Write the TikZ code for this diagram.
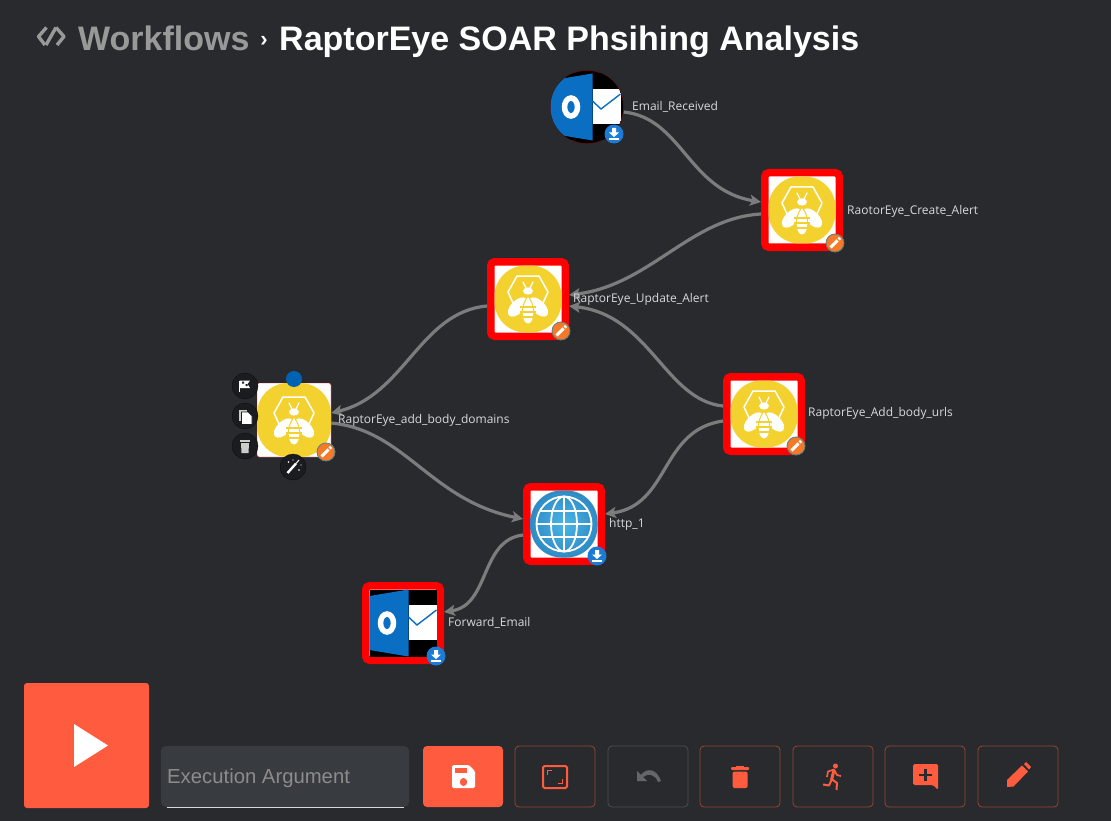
\documentclass[tikz,border=0pt]{standalone}
\usepackage{fontspec}
\setmainfont{Liberation Sans}
\newfontfamily\lblfont{Open Sans}
\usetikzlibrary{arrows.meta}
\definecolor{pagebg}{HTML}{282A2E}
\definecolor{accent}{HTML}{FF5C3F}
\definecolor{btnline}{HTML}{96452F}
\definecolor{btnoff}{HTML}{4C4D51}
\definecolor{beeyellow}{HTML}{F3D230}
\definecolor{outlookblue}{HTML}{0A6FC2}
\definecolor{badgeblue}{HTML}{1C7CD5}
\definecolor{badgeorange}{HTML}{F47A2A}
\definecolor{flowgray}{HTML}{7C7C7C}
\definecolor{sidedark}{HTML}{1B1C1F}
\definecolor{argfill}{HTML}{383B40}
\definecolor{globein}{HTML}{4AB6E8}
\definecolor{globeout}{HTML}{2F8BC4}
\tikzset{
  redbox/.style={draw=red, line width=7.5pt, rounded corners=4pt, fill=white, minimum size=74.5, inner sep=0},
  flow/.style={draw=flowgray, line width=3.2pt, -{Stealth[length=11pt,width=11pt,inset=2.5pt]}},
  lbl/.style={text=white!85!black, anchor=west, inner sep=0, font=\lblfont\fontsize{12}{14}\selectfont},
  btn/.style={draw=btnline, line width=.8pt, rounded corners=4pt, minimum width=80, minimum height=61, inner sep=0},
  side/.style={circle, fill=sidedark, draw=black!70!pagebg, minimum size=26, inner sep=0},
  pics/bee/.style={code={
    \fill[beeyellow, rounded corners=31pt] (-#1,-#1) rectangle (#1,#1);
    \draw[white, line width=1.5pt, line join=round] (-15,4)--(-20,-7)--(-11,-23)--(11,-23)--(20,-7)--(15,4);
    \draw[white, line width=1.3pt, line cap=round] (-2,-11)--(-5,-17) (2,-11)--(5,-17);
    \fill[white] (0,-8) ellipse [x radius=5, y radius=3.6];
    \fill[white, rotate around={45:(-10.5,8)}] (-10.5,8) ellipse [x radius=12, y radius=6.5];
    \fill[white, rotate around={-45:(10.5,8)}] (10.5,8) ellipse [x radius=12, y radius=6.5];
    \fill[white, draw=beeyellow, line width=1pt] (0,-3)--(3,2) .. controls (8,12) and (6,25) .. (0,25) .. controls (-6,25) and (-8,12) .. (-3,2)--cycle;
    \draw[beeyellow, line width=1.5pt] (-8,8)--(8,8) (-8,13)--(8,13) (-8,18)--(8,18);
  }},
  pics/outlook/.style={code={
    \fill[black] (-33.5,-33.5) rectangle (33.5,33.5);
    \fill[outlookblue] (-33.5,-27)--(5.5,-33.5)--(5.5,33.5)--(-33.5,27)--cycle;
    \fill[white] (5.5,-18) rectangle (33.5,17);
    \draw[outlookblue, line width=1.4pt] (5.5,-6)--(14,2)--(33.5,-13);
    \draw[white, line width=5.5pt] (-16,0) ellipse [x radius=6.5, y radius=9];
  }},
  pics/globe/.style={code={
    \shade[inner color=globein, outer color=globeout, rounded corners=31pt] (-33.5,-33.5) rectangle (33.5,33.5);
    \begin{scope}[white, line width=1.8pt]
    \draw (0,0) circle (27.5);
    \draw (0,0) ellipse [x radius=13, y radius=27.5];
    \draw (0,-27.5)--(0,27.5) (-27.5,0)--(27.5,0) (-24,-13)--(24,-13) (-24,13)--(24,13);
    \end{scope}
  }},
  pics/pencilbadge/.style={code={
    \fill[badgeorange, draw=gray!70!teal, line width=.8pt] (0,0) circle (9);
    \draw[white, line width=3pt] (-4.5,4.5)--(2.5,-2.5);
    \draw[white, line width=3pt] (3.6,-3.6)--(5,-5);
  }},
  pics/loadbadge/.style={code={
    \fill[badgeblue] (0,0) circle (9.5);
    \fill[white] (-2,-6)--(2,-6)--(2,-1.5)--(5,-1.5)--(0,3)--(-5,-1.5)--(-2,-1.5)--cycle;
    \fill[white] (-5,4.2) rectangle (5,5.8);
  }},
}
\begin{document}
\begin{tikzpicture}[x=1pt,y=-1pt]
\useasboundingbox[fill=pagebg] (0,0) rectangle (1111,821);
% heading
\draw[gray!80!white, line width=3.4pt, line join=round] (46.5,27.5)--(38.5,36.5)--(45,45) (56,27.5)--(64,36.5)--(57,45);
\draw[gray!80!white, line width=3.4pt] (56,27.5)--(46,45);
\node[anchor=base west, inner sep=0, text=gray!80!white, font=\bfseries\fontsize{34}{40}\selectfont] (wftitle) at (78,51) {Workflows};
\node[anchor=base, inner sep=0, text=white, font=\bfseries\fontsize{22}{26}\selectfont] (wfsep) at (264,47) {›};
\node[anchor=base west, inner sep=0, text=white, font=\bfseries\fontsize{34}{40}\selectfont] (wfname) at (279,51) {RaptorEye SOAR Phsihing Analysis};
% nodes
\node[circle, draw=red!55!black, fill=black, minimum size=73, inner sep=0] (received) at (587,107) {};
\begin{scope}
\clip (587,107) circle (36.5);
\fill[outlookblue] (550,70) rectangle (560,144);
\pic at (received) {outlook};
\end{scope}
\node[redbox] (create) at (802,210) {};
\node[redbox] (update) at (528,299) {};
\node[redbox] (urls) at (764,414) {};
\node[redbox] (http) at (564,524) {};
\node[redbox] (forward) at (403,623) {};
\node[draw=red!70!black, fill=white, rounded corners=2pt, minimum size=74, inner sep=0] (domains) at (294,420) {};
\pic at (create) {bee=33.5};
\pic at (update) {bee=33.5};
\pic at (urls) {bee=33.5};
\pic at (domains) {bee=37};
\pic at (http) {globe};
\pic at (forward) {outlook};
% badges
\pic at (614,134) {loadbadge};
\pic at (597,556) {loadbadge};
\pic at (436,656) {loadbadge};
\pic at (835,243) {pencilbadge};
\pic at (561,331) {pencilbadge};
\pic at (796,446) {pencilbadge};
\pic at (326,452) {pencilbadge};
% connectors
\draw[flow] ([yshift=-5pt]received.east) .. controls (682,118) and (688,190) .. ([yshift=8pt]create.west);
\draw[flow] ([yshift=-4pt]create.west) .. controls (690,218) and (650,285) .. ([yshift=4pt]update.east);
\draw[flow] ([yshift=8pt]urls.west) .. controls (665,400) and (650,315) .. ([yshift=-7pt]update.east);
\draw[flow] ([yshift=-7pt]update.west) .. controls (420,312) and (405,395) .. ([yshift=7pt]domains.east);
\draw[flow] ([yshift=-3pt]domains.east) .. controls (405,430) and (430,500) .. ([yshift=5pt]http.west);
\draw[flow] ([yshift=-7pt]urls.west) .. controls (660,430) and (670,505) .. ([yshift=10pt]http.east);
\draw[flow] ([yshift=-11pt]http.west) .. controls (480,540) and (490,605) .. ([yshift=11pt]forward.east);
% node labels
\node[lbl] (lreceived) at (632,107) {Email\_Received};
\node[lbl] (lcreate) at (847,211) {RaotorEye\_Create\_Alert};
\node[lbl] (lupdate) at (573,299) {RaptorEye\_Update\_Alert};
\node[lbl] (lurls) at (808,413) {RaptorEye\_Add\_body\_urls};
\node[lbl] (ldomains) at (338,420) {RaptorEye\_add\_body\_domains};
\node[lbl] (lhttp) at (609,524) {http\_1};
\node[lbl] (lforward) at (448,623) {Forward\_Email};
% tools round the selected node
\node[circle, fill=blue!45!cyan!70!black, minimum size=16, inner sep=0] (dot) at (294,379) {};
\node[side] (sflag) at (245,386) {};
\node[side] (scopy) at (245,416) {};
\node[side] (strash) at (245,446) {};
\node[side] (swand) at (293,467) {};
\draw[white, line width=1pt] (239.5,392)--(239.5,380.5);
\fill[white] (239.5,380.5)--(250,380.5)--(247.5,384)--(250,388)--(239.5,388)--cycle;
\fill[sidedark] (242,381.5) rectangle (244,383.5) (245.5,384) rectangle (247.5,386);
\fill[white!80!black] (238.5,409.5) rectangle (247,421);
\fill[white, draw=sidedark, line width=.7pt] (241.5,412)--(248,412)--(252,416)--(252,424.5)--(241.5,424.5)--cycle;
\fill[white!80!black] (240,440) rectangle (250,442);
\fill[white!80!black] (241,443) -- (249,443) -- (248.5,453) -- (241.5,453) -- cycle;
\draw[white, line width=2.4pt] (287.5,473)--(296,463.5);
\draw[white, line width=1pt] (296,463.5)--(299,460);
\fill[white] (288.5,462) circle (.9) (299,470) circle (.9) (301,465) circle (.7) (293,460) circle (.7);
% bottom bar
\node[fill=accent, rounded corners=3pt, minimum size=125, inner sep=0] (play) at (86.5,745.5) {};
\fill[white] (74,724)--(108,745.5)--(74,767)--cycle;
\node[fill=argfill, rounded corners=5pt, minimum width=248, minimum height=61, inner sep=0] (argbox) at (285,776.5) {};
\draw[white!85!black, line width=.8pt] (167,807)--(404,807);
\node[anchor=base west, inner sep=0, text=white!55!black, font=\fontsize{20.3}{24}\selectfont] (argtext) at (167,783) {Execution Argument};
\node[btn, draw=none, fill=accent] (bsave) at (463,776.5) {};
\node[btn] (bfit) at (555,776.5) {};
\node[btn, draw=btnoff] (bundo) at (648,776.5) {};
\node[btn] (bdel) at (740,776.5) {};
\node[btn] (brun) at (833,776.5) {};
\node[btn] (bnote) at (925,776.5) {};
\node[btn] (bedit) at (1018,776.5) {};
% save
\fill[white, rounded corners=1.5pt] (452,765)--(469,765)--(475,771)--(475,788)--(452,788)--cycle;
\fill[accent] (455,768) rectangle (467,773);
\fill[accent] (463.5,782) ellipse [x radius=3.7, y radius=4];
% fit
\draw[accent, line width=2pt, rounded corners=1.5pt] (543,766) rectangle (567,788);
\draw[accent, line width=1.8pt] (547.5,775)--(547.5,770.5)--(552,770.5) (562.5,779)--(562.5,783.5)--(558,783.5);
% undo
\fill[gray!70!pagebg] (637,771)--(637,781)--(647,781)--(643,777) .. controls (648,773) and (655,774) .. (658,782) -- (661,781) .. controls (657,769) and (647,767) .. (641,775) -- cycle;
% trash
\fill[accent, rounded corners=1pt] (731,767) rectangle (749,770);
\fill[accent] (736,765.5) rectangle (744,768);
\fill[accent, rounded corners=1.5pt] (732.5,771.5) rectangle (747.5,788);
% runner
\fill[accent] (835.5,766) circle (2.5);
\draw[accent, line width=3pt, line join=round] (834,770)--(831.5,780);
\draw[accent, line width=1.7pt, line join=round] (827,777)--(828,771.5)--(834,769.5)--(837,775)--(841,776);
\draw[accent, line width=2pt, line join=round] (831.5,779)--(837,783)--(836.5,790) (831.5,780)--(829,785.5)--(823,784.5);
% note
\fill[accent, rounded corners=1.5pt] (913,764)--(938,764)--(938,790)--(933,785)--(913,785)--cycle;
\draw[pagebg, line width=2.4pt] (925.5,768.5)--(925.5,781) (919,774.7)--(932,774.7);
% edit
\fill[accent] (1007,780)--(1022,765.5)--(1028,771.5)--(1013.5,786.5)--(1007,787)--cycle;
\fill[accent] (1024,764)--(1026,762)--(1031,767)--(1029,769.5)--cycle;
\end{tikzpicture}
\end{document}
